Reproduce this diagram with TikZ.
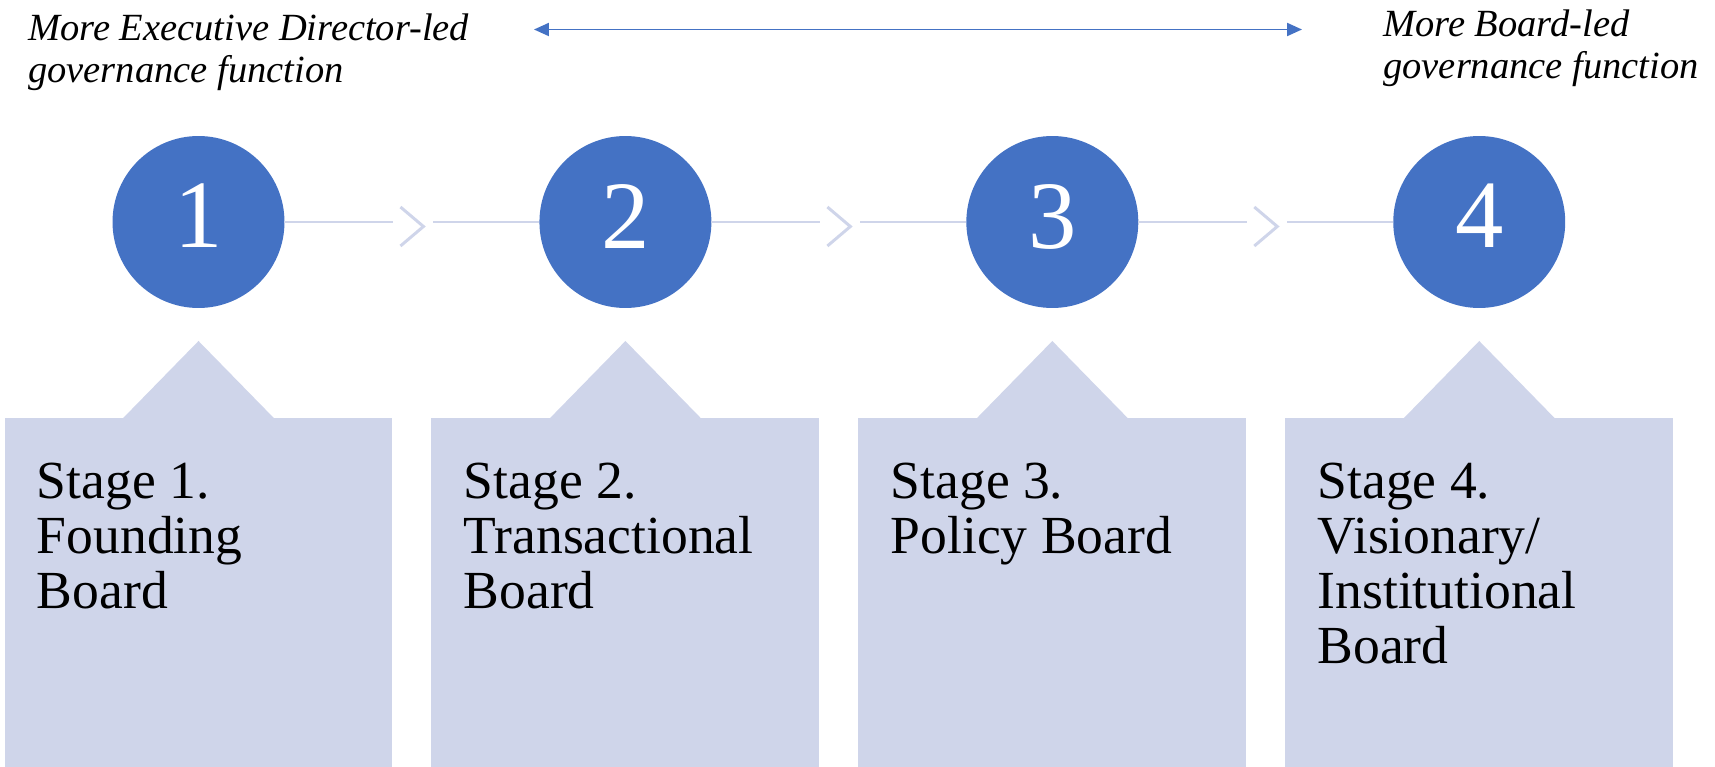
\documentclass[tikz,border=0pt]{standalone}
\usepackage{fontspec}
\setmainfont{Liberation Serif}
\usepackage{tikz}
\usetikzlibrary{arrows.meta, positioning, calc}
\definecolor{stageblue}{RGB}{68,114,196}
\definecolor{stagefill}{RGB}{207,213,234}

\begin{document}
\begin{tikzpicture}[x=0.02cm, y=-0.02cm,
    num/.style={circle, fill=stageblue, text=white, minimum size=3.44cm, inner sep=0pt,
                outer sep=0pt, text depth=6.8pt, font=\fontsize{55}{60}\selectfont},
    panel/.style={rectangle, fill=stagefill, minimum width=7.76cm, minimum height=6.98cm,
                  inner sep=0pt, outer sep=0pt},
    stagetext/.style={anchor=north west, inner sep=0pt, align=left,
                      font=\fontsize{30.5}{31.3}\selectfont},
    note/.style={anchor=north west, inner sep=0pt, align=left,
                 font=\fontsize{21.9}{23.9}\selectfont\itshape},
    link/.style={draw=stagefill, line width=1.7pt}
]
\useasboundingbox (0,0) rectangle (1715,767);
% direction of governance
\node[note] (edled) at (28,13) {More Executive Director-led\\governance function};
\node[note] (bdled) at (1383,9) {More Board-led\\governance function};
\coordinate (al) at (534,29.5);
\coordinate (ar) at (1302,29.5);
\draw[{Triangle[length=8.5pt,width=7.4pt]}-{Triangle[length=8.5pt,width=7.4pt]}, line width=1.1pt, stageblue] (al) -- (ar);
% stage circles
\node[num] (c1) at (198.5,222) {1};
\node[num, right=5.1cm of c1] (c2) {2};
\node[num, right=5.1cm of c2] (c3) {3};
\node[num, right=5.1cm of c3] (c4) {4};
\coordinate (m1) at ($(c1)!0.5!(c2)$);
\coordinate (m2) at ($(c2)!0.5!(c3)$);
\coordinate (m3) at ($(c3)!0.5!(c4)$);
\draw[link] (c1.east) -- ([xshift=-0.37cm]m1);
\draw[link] ([xshift=0.43cm]m1) -- (c2.west);
\draw[link] ([xshift=-0.23cm,yshift=0.3cm]m1) -- ([xshift=0.23cm,yshift=-0.09cm]m1) -- ([xshift=-0.23cm,yshift=-0.48cm]m1);
\draw[link] (c2.east) -- ([xshift=-0.37cm]m2);
\draw[link] ([xshift=0.43cm]m2) -- (c3.west);
\draw[link] ([xshift=-0.23cm,yshift=0.3cm]m2) -- ([xshift=0.23cm,yshift=-0.09cm]m2) -- ([xshift=-0.23cm,yshift=-0.48cm]m2);
\draw[link] (c3.east) -- ([xshift=-0.37cm]m3);
\draw[link] ([xshift=0.43cm]m3) -- (c4.west);
\draw[link] ([xshift=-0.23cm,yshift=0.3cm]m3) -- ([xshift=0.23cm,yshift=-0.09cm]m3) -- ([xshift=-0.23cm,yshift=-0.48cm]m3);
% stage panels
\node[panel, below=2.2cm of c1] (p1) {};
\node[panel, below=2.2cm of c2] (p2) {};
\node[panel, below=2.2cm of c3] (p3) {};
\node[panel, below=2.2cm of c4] (p4) {};
\fill[stagefill] ([xshift=-1.54cm,yshift=-1pt]p1.north) -- ([yshift=1.54cm]p1.north) -- ([xshift=1.54cm,yshift=-1pt]p1.north) -- cycle;
\fill[stagefill] ([xshift=-1.54cm,yshift=-1pt]p2.north) -- ([yshift=1.54cm]p2.north) -- ([xshift=1.54cm,yshift=-1pt]p2.north) -- cycle;
\fill[stagefill] ([xshift=-1.54cm,yshift=-1pt]p3.north) -- ([yshift=1.54cm]p3.north) -- ([xshift=1.54cm,yshift=-1pt]p3.north) -- cycle;
\fill[stagefill] ([xshift=-1.54cm,yshift=-1pt]p4.north) -- ([yshift=1.54cm]p4.north) -- ([xshift=1.54cm,yshift=-1pt]p4.north) -- cycle;
\node[stagetext] (s1) at ([xshift=0.64cm,yshift=-0.9cm]p1.north west) {Stage 1.\\Founding\\Board};
\node[stagetext] (s2) at ([xshift=0.64cm,yshift=-0.9cm]p2.north west) {Stage 2.\\Transactional\\Board};
\node[stagetext] (s3) at ([xshift=0.64cm,yshift=-0.9cm]p3.north west) {Stage 3.\\Policy Board};
\node[stagetext] (s4) at ([xshift=0.64cm,yshift=-0.9cm]p4.north west) {Stage 4.\\Visionary/\\Institutional\\Board};
\end{tikzpicture}
\end{document}
